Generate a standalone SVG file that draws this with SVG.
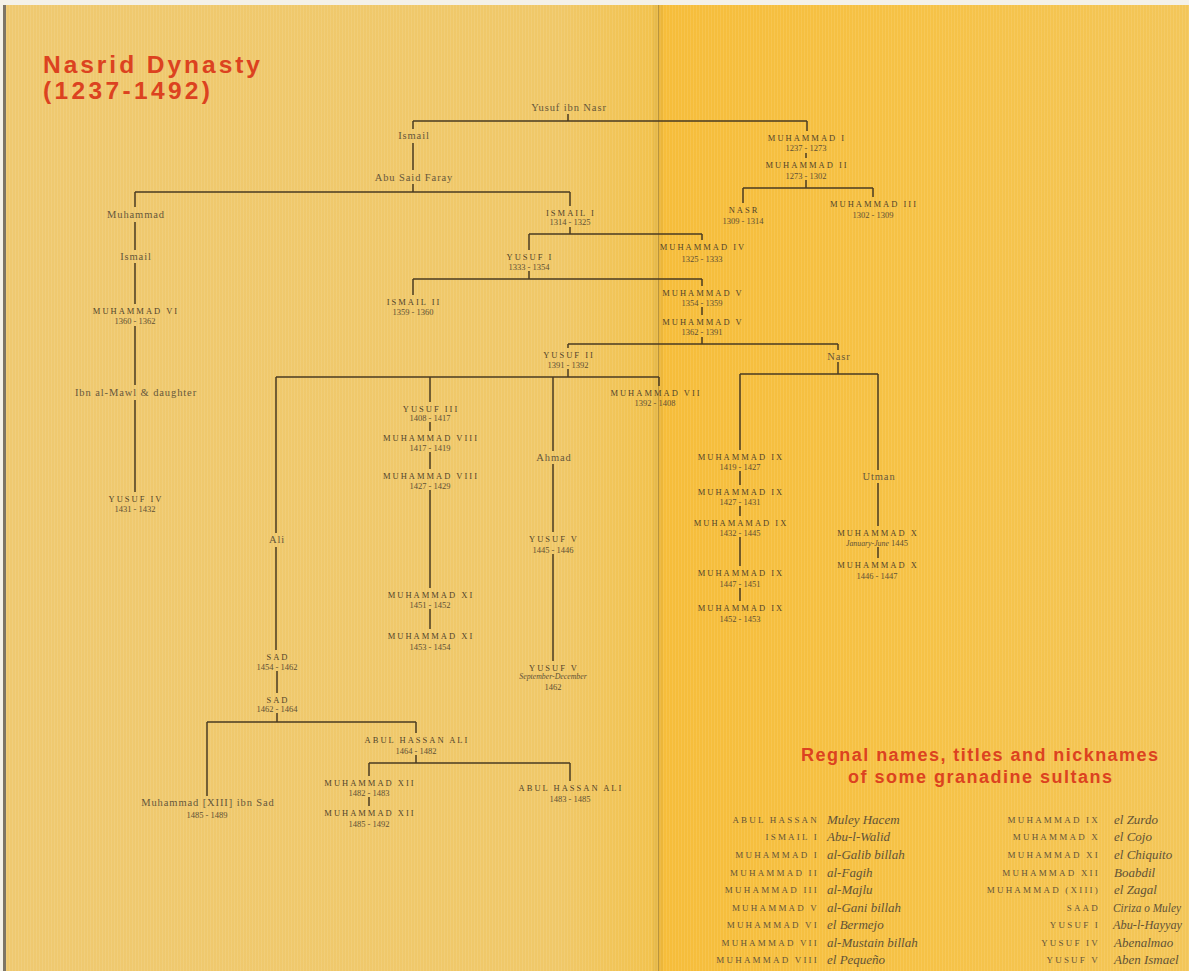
<svg xmlns="http://www.w3.org/2000/svg" width="1189" height="971" viewBox="0 0 1189 971">
<defs>
<linearGradient id="lp" x1="0" y1="0" x2="1" y2="0">
<stop offset="0" stop-color="#EFC970"/>
<stop offset="0.85" stop-color="#F0C868"/>
<stop offset="1" stop-color="#F2C24C"/>
</linearGradient>
<linearGradient id="rp" x1="0" y1="0" x2="1" y2="0">
<stop offset="0" stop-color="#F6BD3A"/>
<stop offset="0.5" stop-color="#F6C246"/>
<stop offset="1" stop-color="#F3C659"/>
</linearGradient>
<pattern id="stripes" width="3" height="10" patternUnits="userSpaceOnUse">
<rect x="0" y="0" width="1" height="10" fill="#ffffff" opacity="0.09"/>
</pattern>
<style>
.conn path{fill:none;stroke:#4a3b22;stroke-width:1.5}
.nm{font-family:"Liberation Serif",serif;font-size:8.5px;letter-spacing:2px;fill:#52442b;text-anchor:middle}
.dt{font-family:"Liberation Serif",serif;font-size:8.5px;fill:#5e5036;text-anchor:middle}
.mx{font-family:"Liberation Serif",serif;font-size:10.5px;letter-spacing:0.9px;fill:#66573c;text-anchor:middle}
.it{font-family:"Liberation Serif",serif;font-style:italic;font-size:7.8px;fill:#5e5036;text-anchor:middle}
.title{font-family:"Liberation Sans",Arial,sans-serif;font-weight:bold;fill:#DC4220}
.tn{font-family:"Liberation Serif",serif;font-size:9px;letter-spacing:2.2px;fill:#64543a;text-anchor:end}
.tv{font-family:"Liberation Serif",serif;font-style:italic;font-size:13px;fill:#625337}
</style>
</defs>

<g id="background">
<rect x="0" y="0" width="1189" height="971" fill="#F4F1E8"/>
<rect x="6" y="5" width="652" height="966" fill="url(#lp)"/>
<rect x="658" y="5" width="531" height="966" fill="url(#rp)"/>
<rect x="6" y="5" width="1183" height="966" fill="url(#stripes)"/>
<rect x="3" y="5" width="3" height="966" fill="#7d7566"/>
<rect x="653" y="5" width="10" height="966" fill="#b38e36" opacity="0.14"/>
<line x1="658.5" y1="5" x2="658.5" y2="971" stroke="#8a7340" stroke-width="1" opacity="0.5"/>
</g>

<g id="titles">
<text class="title" x="43" y="73" font-size="24.5" textLength="217" lengthAdjust="spacing">Nasrid Dynasty</text>
<text class="title" x="43" y="99" font-size="24.5" textLength="167" lengthAdjust="spacing">(1237-1492)</text>
<text class="title" x="801" y="761" font-size="18" textLength="357" lengthAdjust="spacing">Regnal names, titles and nicknames</text>
<text class="title" x="848" y="783" font-size="18" textLength="264" lengthAdjust="spacing">of some granadine sultans</text>
</g>

<g id="connectors" class="conn">
<path d="M568,114 V121 M413,121 H807 M413,121 V129 M807,121 V131"/>
<path d="M413,143 V170 M413,184 V192 M135,192 H570 M135,192 V207 M570,192 V206"/>
<path d="M135,222 V250 M135,263 V304 M135,326 V385 M135,400 V492"/>
<path d="M806,153 V158 M806,180 V188 M743,188 H873 M743,188 V203 M873,188 V197"/>
<path d="M570,227 V234 M529,234 H702 M529,234 V250 M702,234 V240"/>
<path d="M529,271 V279 M413,279 H702 M413,279 V295 M702,279 V286"/>
<path d="M702,307 V315 M702,337 V344 M568,344 H838 M568,344 V348 M838,344 V350"/>
<path d="M568,369 V377 M276,377 H659 M276,377 V533 M430,377 V402 M553,377 V451 M659,377 V386"/>
<path d="M838,362 V374 M740,374 H878 M740,374 V450 M878,374 V470"/>
<path d="M276,547 V650"/>
<path d="M430,422 V431 M430,452 V469 M430,490 V588 M430,609 V629"/>
<path d="M553,464 V532 M553,554 V661"/>
<path d="M740,471 V485 M740,506 V516 M740,537 V566 M740,588 V601"/>
<path d="M878,483 V526 M878,547 V558"/>
<path d="M277,671 V693 M277,713 V722 M207,722 H416 M207,722 V796 M416,722 V733"/>
<path d="M416,755 V763 M369,763 H570 M369,763 V776 M570,763 V781 M369,797 V806"/>
</g>

<g id="n-yusuf-ibn-nasr"><text class="mx" x="569" y="111">Yusuf ibn Nasr</text></g>
<g id="n-ismail-a"><text class="mx" x="414" y="139">Ismail</text></g>
<g id="n-abu-said-faray"><text class="mx" x="414" y="181">Abu Said Faray</text></g>
<g id="n-muhammad-i"><text class="nm" x="807" y="141">MUHAMMAD I</text><text class="dt" x="806" y="151">1237 - 1273</text></g>
<g id="n-muhammad-ii"><text class="nm" x="807" y="168">MUHAMMAD II</text><text class="dt" x="806" y="179">1273 - 1302</text></g>
<g id="n-nasr-sultan"><text class="nm" x="744" y="213">NASR</text><text class="dt" x="743" y="224">1309 - 1314</text></g>
<g id="n-muhammad-iii"><text class="nm" x="874" y="207">MUHAMMAD III</text><text class="dt" x="873" y="218">1302 - 1309</text></g>
<g id="n-muhammad-b"><text class="mx" x="136" y="218">Muhammad</text></g>
<g id="n-ismail-b"><text class="mx" x="136" y="260">Ismail</text></g>
<g id="n-muhammad-vi"><text class="nm" x="136" y="314">MUHAMMAD VI</text><text class="dt" x="135" y="324">1360 - 1362</text></g>
<g id="n-ibn-al-mawl"><text class="mx" x="136" y="396">Ibn al-Mawl &amp; daughter</text></g>
<g id="n-yusuf-iv"><text class="nm" x="136" y="502">YUSUF IV</text><text class="dt" x="135" y="512">1431 - 1432</text></g>
<g id="n-ismail-i"><text class="nm" x="571" y="216">ISMAIL I</text><text class="dt" x="570" y="225">1314 - 1325</text></g>
<g id="n-yusuf-i"><text class="nm" x="530" y="260">YUSUF I</text><text class="dt" x="529" y="270">1333 - 1354</text></g>
<g id="n-muhammad-iv"><text class="nm" x="703" y="250">MUHAMMAD IV</text><text class="dt" x="702" y="262">1325 - 1333</text></g>
<g id="n-ismail-ii"><text class="nm" x="414" y="305">ISMAIL II</text><text class="dt" x="413" y="315">1359 - 1360</text></g>
<g id="n-muhammad-v-1"><text class="nm" x="703" y="296">MUHAMMAD V</text><text class="dt" x="702" y="306">1354 - 1359</text></g>
<g id="n-muhammad-v-2"><text class="nm" x="703" y="325">MUHAMMAD V</text><text class="dt" x="702" y="335">1362 - 1391</text></g>
<g id="n-yusuf-ii"><text class="nm" x="569" y="358">YUSUF II</text><text class="dt" x="568" y="368">1391 - 1392</text></g>
<g id="n-nasr"><text class="mx" x="839" y="360">Nasr</text></g>
<g id="n-ali"><text class="mx" x="277" y="543">Ali</text></g>
<g id="n-yusuf-iii"><text class="nm" x="431" y="412">YUSUF III</text><text class="dt" x="430" y="421">1408 - 1417</text></g>
<g id="n-muhammad-viii-1"><text class="nm" x="431" y="441">MUHAMMAD VIII</text><text class="dt" x="430" y="451">1417 - 1419</text></g>
<g id="n-muhammad-viii-2"><text class="nm" x="431" y="479">MUHAMMAD VIII</text><text class="dt" x="430" y="489">1427 - 1429</text></g>
<g id="n-muhammad-xi-1"><text class="nm" x="431" y="598">MUHAMMAD XI</text><text class="dt" x="430" y="608">1451 - 1452</text></g>
<g id="n-muhammad-xi-2"><text class="nm" x="431" y="639">MUHAMMAD XI</text><text class="dt" x="430" y="650">1453 - 1454</text></g>
<g id="n-ahmad"><text class="mx" x="554" y="461">Ahmad</text></g>
<g id="n-yusuf-v-1"><text class="nm" x="554" y="542">YUSUF V</text><text class="dt" x="553" y="553">1445 - 1446</text></g>
<g id="n-yusuf-v-2"><text class="nm" x="554" y="671">YUSUF V</text><text class="it" x="553" y="679">September-December</text><text class="dt" x="553" y="690">1462</text></g>
<g id="n-muhammad-vii"><text class="nm" x="656" y="396">MUHAMMAD VII</text><text class="dt" x="655" y="406">1392 - 1408</text></g>
<g id="n-muhammad-ix-1"><text class="nm" x="741" y="460">MUHAMMAD IX</text><text class="dt" x="740" y="470">1419 - 1427</text></g>
<g id="n-muhammad-ix-2"><text class="nm" x="741" y="495">MUHAMMAD IX</text><text class="dt" x="740" y="505">1427 - 1431</text></g>
<g id="n-muhammad-ix-3"><text class="nm" x="741" y="526">MUHAMAMAD IX</text><text class="dt" x="740" y="536">1432 - 1445</text></g>
<g id="n-muhammad-ix-4"><text class="nm" x="741" y="576">MUHAMMAD IX</text><text class="dt" x="740" y="587">1447 - 1451</text></g>
<g id="n-muhammad-ix-5"><text class="nm" x="741" y="611">MUHAMMAD IX</text><text class="dt" x="740" y="622">1452 - 1453</text></g>
<g id="n-utman"><text class="mx" x="879" y="480">Utman</text></g>
<g id="n-muhammad-x-1"><text class="nm" x="878" y="536">MUHAMMAD X</text><text class="dt" x="877" y="546"><tspan font-style="italic" font-size="7.8">January-June</tspan> 1445</text></g>
<g id="n-muhammad-x-2"><text class="nm" x="878" y="568">MUHAMMAD X</text><text class="dt" x="877" y="579">1446 - 1447</text></g>
<g id="n-sad-1"><text class="nm" x="278" y="660">SAD</text><text class="dt" x="277" y="670">1454 - 1462</text></g>
<g id="n-sad-2"><text class="nm" x="278" y="703">SAD</text><text class="dt" x="277" y="712">1462 - 1464</text></g>
<g id="n-muhammad-xiii"><text class="mx" x="208" y="806">Muhammad [XIII] ibn Sad</text><text class="dt" x="207" y="818">1485 - 1489</text></g>
<g id="n-abul-hassan-ali-1"><text class="nm" x="417" y="743">ABUL HASSAN ALI</text><text class="dt" x="416" y="754">1464 - 1482</text></g>
<g id="n-muhammad-xii-1"><text class="nm" x="370" y="786">MUHAMMAD XII</text><text class="dt" x="369" y="796">1482 - 1483</text></g>
<g id="n-muhammad-xii-2"><text class="nm" x="370" y="816">MUHAMMAD XII</text><text class="dt" x="369" y="827">1485 - 1492</text></g>
<g id="n-abul-hassan-ali-2"><text class="nm" x="571" y="791">ABUL HASSAN ALI</text><text class="dt" x="570" y="802">1483 - 1485</text></g>

<g id="regnal-table">
<text class="tn" x="819" y="823">ABUL HASSAN</text><text class="tv" x="827" y="824">Muley Hacem</text>
<text class="tn" x="819" y="840">ISMAIL I</text><text class="tv" x="827" y="841">Abu-l-Walid</text>
<text class="tn" x="819" y="858">MUHAMMAD I</text><text class="tv" x="827" y="859">al-Galib billah</text>
<text class="tn" x="819" y="876">MUHAMMAD II</text><text class="tv" x="827" y="877">al-Fagih</text>
<text class="tn" x="819" y="893">MUHAMMAD III</text><text class="tv" x="827" y="894">al-Majlu</text>
<text class="tn" x="819" y="911">MUHAMMAD V</text><text class="tv" x="827" y="912">al-Gani billah</text>
<text class="tn" x="819" y="928">MUHAMMAD VI</text><text class="tv" x="827" y="929">el Bermejo</text>
<text class="tn" x="819" y="946">MUHAMMAD VII</text><text class="tv" x="827" y="947">al-Mustain billah</text>
<text class="tn" x="819" y="963">MUHAMMAD VIII</text><text class="tv" x="827" y="964">el Pequeño</text>
<text class="tn" x="1100" y="823">MUHAMMAD IX</text><text class="tv" x="1114" y="824">el Zurdo</text>
<text class="tn" x="1100" y="840">MUHAMMAD X</text><text class="tv" x="1114" y="841">el Cojo</text>
<text class="tn" x="1100" y="858">MUHAMMAD XI</text><text class="tv" x="1114" y="859">el Chiquito</text>
<text class="tn" x="1100" y="876">MUHAMMAD XII</text><text class="tv" x="1114" y="877">Boabdil</text>
<text class="tn" x="1100" y="893">MUHAMMAD (XIII)</text><text class="tv" x="1114" y="894">el Zagal</text>
<text class="tn" x="1100" y="911">SAAD</text><text class="tv" x="1113" y="912" textLength="68" lengthAdjust="spacingAndGlyphs">Ciriza o Muley</text>
<text class="tn" x="1100" y="928">YUSUF I</text><text class="tv" x="1113" y="929" textLength="69" lengthAdjust="spacingAndGlyphs">Abu-l-Hayyay</text>
<text class="tn" x="1100" y="946">YUSUF IV</text><text class="tv" x="1114" y="947">Abenalmao</text>
<text class="tn" x="1100" y="963">YUSUF V</text><text class="tv" x="1114" y="964">Aben Ismael</text>
</g>
</svg>
